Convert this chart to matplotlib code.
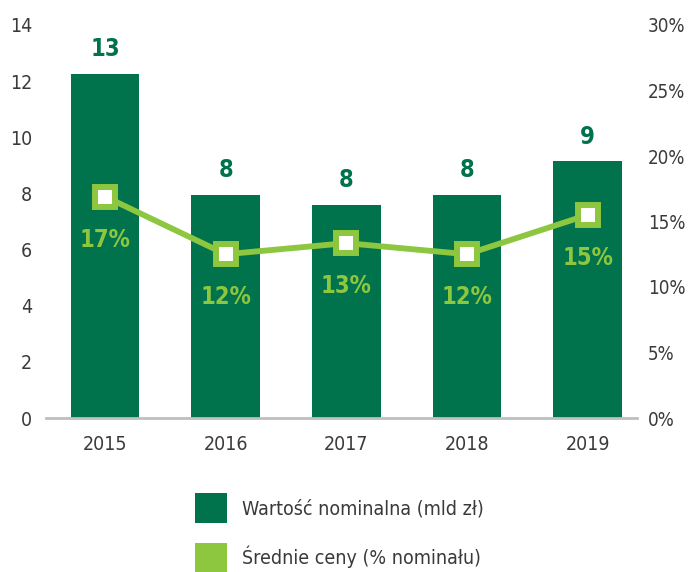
import matplotlib
matplotlib.use("Agg")
import matplotlib.pyplot as plt
from matplotlib.patches import Patch

years = ["2015", "2016", "2017", "2018", "2019"]
nominal = [12.25, 7.95, 7.6, 7.95, 9.15]
nominal_labels = ["13", "8", "8", "8", "9"]
price_pct = [16.9, 12.5, 13.35, 12.5, 15.5]
price_labels = ["17%", "12%", "13%", "12%", "15%"]
left_ticks = [0, 2, 4, 6, 8, 10, 12, 14]
right_ticks = [0, 5, 10, 15, 20, 25, 30]
legend_labels = ["Wartość nominalna (mld zł)", "Średnie ceny (% nominału)"]

plt.rcParams["font.family"] = ["DejaVu Sans"]
plt.rcParams["font.stretch"] = "condensed"

DARK = "#00734D"
LIGHT = "#8DC63F"
TXT = "#3a3a3a"

fig = plt.figure(figsize=(6.88, 5.72), dpi=100)
ax = fig.add_axes([46/688, 154/572, (637-46)/688, (418-25)/572])
x = list(range(len(years)))
ax.bar(x, nominal, width=0.57, color=DARK, zorder=2)
ax.set_xlim(-0.49, 4.41)
ax.set_ylim(0, 14)
ax.set_yticks(left_ticks)
ax.set_xticks(x)
ax.set_xticklabels(years)
for s in ["top", "right", "left"]:
    ax.spines[s].set_visible(False)
ax.spines["bottom"].set_color("#bfbfbf")
ax.spines["bottom"].set_linewidth(2)
ax.tick_params(axis="both", length=0, labelsize=14, colors=TXT)
ax.tick_params(axis="y", pad=10)
ax.tick_params(axis="x", pad=12)
for xi, v, lab in zip(x, nominal, nominal_labels):
    ax.text(xi, v + 0.45, lab, ha="center", va="bottom", fontsize=17,
            fontweight="bold", color=DARK)

ax2 = ax.twinx()
ax2.set_ylim(0, 30)
ax2.set_yticks(right_ticks)
ax2.set_yticklabels([f"{t}%" for t in right_ticks])
for s in ["top", "right", "left", "bottom"]:
    ax2.spines[s].set_visible(False)
ax2.tick_params(axis="y", length=0, labelsize=13.5, colors=TXT, pad=8)
ax2.plot(x, price_pct, color=LIGHT, lw=4.2, marker="s", markersize=14.4,
         markerfacecolor="white", markeredgecolor=LIGHT, markeredgewidth=4.3, zorder=3)
for xi, v, lab in zip(x, price_pct, price_labels):
    ax2.text(xi, v - 3.3, lab, ha="center", va="center", fontsize=17,
             fontweight="bold", color=LIGHT)

handles = [Patch(facecolor=DARK), Patch(facecolor=LIGHT)]
fig.legend(handles, legend_labels, loc="upper left", bbox_to_anchor=(195/688, 1 - 493/572),
           frameon=False, fontsize=14, handlelength=1.65, handleheight=2.0,
           labelspacing=1.02, handletextpad=0.75, labelcolor=TXT, borderaxespad=0,
           borderpad=0)

fig.savefig("out.png", dpi=100)
